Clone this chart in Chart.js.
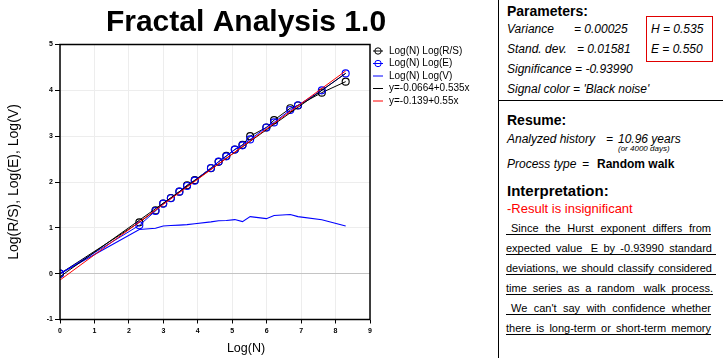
<!DOCTYPE html>
<html>
<head>
<meta charset="utf-8">
<script src="https://cdn.jsdelivr.net/npm/chart.js@4/dist/chart.umd.min.js"></script>
<style>
  html, body { margin: 0; padding: 0; background: #fff; }
  body { width: 723px; height: 358px; position: relative; overflow: hidden;
         font-family: "Liberation Sans", Arial, sans-serif; color: #000; }
  #chartBox { position: absolute; left: 0; top: 0; width: 492px; height: 358px; }
  .t { position: absolute; white-space: pre; font-size: 12px; line-height: 14px; }
  .it { font-style: italic; }
  .hd { font-weight: bold; font-size: 14px; line-height: 16px; }
  .para { position: absolute; left: 506px; height: 12px; line-height: 12px; font-size: 11px;
          display: flex; justify-content: space-between; border-bottom: 1px solid #000;
          box-sizing: content-box; white-space: pre; }
</style>
</head>
<body>
<div id="chartBox"><canvas id="fa" width="492" height="358"></canvas></div>

<!-- right hand info panel -->
<div style="position:absolute;left:498px;top:0;width:1px;height:358px;background:#000"></div>
<div style="position:absolute;left:498px;top:100px;width:225px;height:1px;background:#000"></div>
<div style="position:absolute;left:646px;top:16px;width:65px;height:44px;border:1px solid #e00000"></div>

<div class="t hd" style="left:507px;top:3px">Parameters:</div>
<div class="t it" style="left:507px;top:22px">Variance</div>
<div class="t it" style="left:574px;top:22px">= 0.00025</div>
<div class="t it" style="left:507px;top:42px">Stand. dev.</div>
<div class="t it" style="left:577px;top:42px">= 0.01581</div>
<div class="t it" style="left:651px;top:22px">H = 0.535</div>
<div class="t it" style="left:651px;top:42px">E = 0.550</div>
<div class="t it" style="left:507px;top:62px">Significance = -0.93990</div>
<div class="t it" style="left:507px;top:81.5px">Signal color = 'Black noise'</div>

<div class="t hd" style="left:507px;top:112px">Resume:</div>
<div class="t it" style="left:507px;top:131.5px">Analyzed history</div>
<div class="t it" style="left:606px;top:131.5px">=</div>
<div class="t it" style="left:618px;top:131.5px">10.96 years</div>
<div class="t it" style="left:618px;top:144px;font-size:8px;line-height:10px">(or 4000 days)</div>
<div class="t it" style="left:507px;top:157px">Process type</div>
<div class="t it" style="left:582px;top:157px">=</div>
<div class="t" style="left:597px;top:157px;font-weight:bold">Random walk</div>

<div class="t" style="left:507px;top:181.7px;font-weight:bold;font-size:15px;line-height:17px">Interpretation:</div>
<div class="t" style="left:507px;top:201.3px;font-size:13px;line-height:15px;color:#ff0000">-Result is insignificant</div>

<div class="para" style="top:222px;width:200px;padding-left:5px"><span>Since</span><span>the</span><span>Hurst</span><span>exponent</span><span>differs</span><span>from</span></div>
<div class="para" style="top:242px;width:206px;padding-right:4px"><span>expected</span><span>value</span><span> E</span><span>by</span><span>-0.93990</span><span>standard</span></div>
<div class="para" style="top:262px;width:206px;padding-right:4px"><span>deviations,</span><span>we</span><span>should</span><span>classify</span><span>considered</span></div>
<div class="para" style="top:282px;width:207px"><span>time</span><span>series</span><span>as</span><span>a</span><span>random </span><span>walk</span><span>process.</span></div>
<div class="para" style="top:302px;width:200px;padding-left:5px"><span>We</span><span>can't</span><span>say</span><span>with</span><span>confidence</span><span>whether</span></div>
<div class="para" style="top:322px;width:205px"><span>there</span><span>is</span><span>long-term</span><span>or</span><span>short-term</span><span>memory</span></div>

<script>
// values
const logN  = [0, 2.303, 2.773, 2.996, 3.219, 3.466, 3.689, 3.912, 4.382, 4.605,
               4.828, 5.075, 5.298, 5.521, 5.991, 6.215, 6.685, 6.908, 7.601, 8.294];
const logRS = [0, 1.12, 1.38, 1.53, 1.65, 1.79, 1.93, 2.04, 2.30, 2.44,
               2.57, 2.71, 2.81, 3.00, 3.19, 3.35, 3.61, 3.67, 3.95, 4.19];
const logE  = [0, 1.055, 1.367, 1.528, 1.644, 1.79, 1.913, 2.03, 2.306, 2.445,
               2.56, 2.707, 2.80, 2.93, 3.19, 3.30, 3.57, 3.675, 4.00, 4.37];
const logV  = [0, 0.965, 0.99, 1.04, 1.05, 1.06, 1.07, 1.09, 1.13, 1.155,
               1.16, 1.18, 1.135, 1.245, 1.20, 1.27, 1.29, 1.245, 1.175, 1.04];

// regression lines, drawn between their two end points
const fitX  = [0, 8.294];
const fitRS = [-0.066, 4.371];
const fitE  = [-0.139, 4.423];

const legendLabels = ['Log(N) Log(R/S)', 'Log(N) Log(E)', 'Log(N) Log(V)',
                      'y=-0.0664+0.535x', 'y=-0.139+0.55x'];
const xTicks = [0, 9];
const yTicks = [-1, 5];

const FONT = '"Liberation Sans", Arial, sans-serif';
Chart.defaults.font.family = FONT;
Chart.defaults.color = '#000';

const pts = (xs, ys) => xs.map((x, i) => ({ x, y: ys[i] }));

// legend drawn in the strip right of the plot (line sample + optional circle)
const sideLegend = {
  id: 'sideLegend',
  afterDraw(chart) {
    const { ctx, chartArea } = chart;
    const x0 = chartArea.right + 3;
    ctx.save();
    ctx.font = '10px ' + FONT;
    ctx.textBaseline = 'middle';
    chart.data.datasets.forEach((ds, i) => {
      const y = chartArea.top + 6.5 + i * 12.5;
      ctx.strokeStyle = ds.borderColor;
      ctx.lineWidth = 1;
      ctx.beginPath();
      ctx.moveTo(x0, y);
      ctx.lineTo(x0 + 10, y);
      ctx.stroke();
      if (ds.pointRadius > 0) {
        ctx.beginPath();
        ctx.arc(x0 + 5, y, 3.2, 0, Math.PI * 2);
        ctx.stroke();
      }
      ctx.fillStyle = '#000';
      ctx.fillText(ds.label, x0 + 16, y);
    });
    ctx.restore();
  }
};

// black frame round the plot area
const plotFrame = {
  id: 'plotFrame',
  afterDatasetsDraw(chart) {
    const { ctx, chartArea: a } = chart;
    ctx.save();
    ctx.strokeStyle = '#000';
    ctx.lineWidth = 1.5;
    ctx.strokeRect(a.left, a.top, a.right - a.left, a.bottom - a.top);
    ctx.restore();
  }
};

new Chart(document.getElementById('fa'), {
  type: 'line',
  data: {
    datasets: [
      { label: legendLabels[0], data: pts(logN, logRS), borderColor: '#000', borderWidth: 1,
        pointRadius: 3.5, pointBorderWidth: 1.1, pointBorderColor: '#000',
        pointBackgroundColor: 'rgba(0,0,0,0)', order: 4 },
      { label: legendLabels[1], data: pts(logN, logE), borderColor: '#0000ff', borderWidth: 1,
        pointRadius: 3.5, pointBorderWidth: 1.1, pointBorderColor: '#0000ff',
        pointBackgroundColor: 'rgba(0,0,0,0)', order: 3 },
      { label: legendLabels[2], data: pts(logN, logV), borderColor: '#0000ff', borderWidth: 1.1,
        pointRadius: 0, order: 5 },
      { label: legendLabels[3], data: pts(fitX, fitRS), borderColor: '#000', borderWidth: 1,
        pointRadius: 0, order: 2 },
      { label: legendLabels[4], data: pts(fitX, fitE), borderColor: '#ff0000', borderWidth: 1,
        pointRadius: 0, order: 1 }
    ]
  },
  options: {
    responsive: false,
    animation: false,
    layout: { padding: 0 },
    plugins: {
      legend: { display: false },
      tooltip: { enabled: false },
      title: {
        display: true, text: 'Fractal Analysis 1.0', color: '#000',
        font: { size: 30, weight: 'bold', lineHeight: 1.2 },
        padding: { top: 5, bottom: 3.5 }
      },
      subtitle: {
        display: true, position: 'bottom', text: 'Log(N)', color: '#000',
        font: { size: 12.5, lineHeight: 1.2 },
        padding: { top: 0, bottom: 2 }
      }
    },
    scales: {
      x: {
        type: 'linear', min: xTicks[0], max: xTicks[1],
        ticks: { stepSize: 1, maxRotation: 0, padding: 3, color: '#000',
                 font: { size: 7, weight: 'bold' } },
        grid: { color: '#ededed', tickColor: '#000', tickLength: 4 },
        border: { display: false },
        afterFit: s => { s.height = 21.5; }
      },
      y: {
        min: yTicks[0], max: yTicks[1],
        ticks: { stepSize: 1, padding: 2, color: '#000', font: { size: 7, weight: 'bold' } },
        grid: { color: c => c.tick && c.tick.value === 0 ? '#c4c4c4' : '#ededed',
                tickColor: '#000', tickLength: 5 },
        border: { display: false },
        title: { display: true, text: 'Log(R/S), Log(E), Log(V)', color: '#000',
                 font: { size: 14 }, padding: { top: 6, bottom: 0 } },
        afterFit: s => { s.width = 60; }
      },
      side: {
        position: 'right', min: 0, max: 1,
        ticks: { display: false },
        grid: { display: false, drawTicks: false },
        border: { display: false },
        afterFit: s => { s.width = 122; }
      }
    }
  },
  plugins: [sideLegend, plotFrame]
});
</script>
</body>
</html>
